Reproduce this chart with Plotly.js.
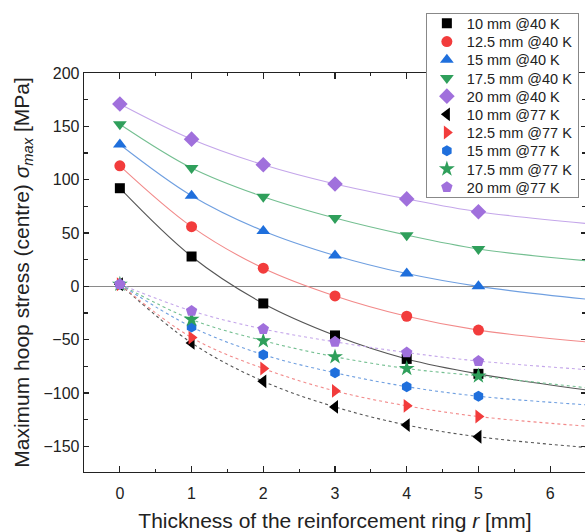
<!DOCTYPE html>
<html>
<head>
<meta charset="utf-8">
<script src="https://cdn.plot.ly/plotly-3.0.1.min.js"></script>
<style>
html,body{margin:0;padding:0;overflow:hidden;background:#fff;}
#chart{width:590px;height:532px;}
</style>
</head>
<body>
<div id="chart"></div>
<script>
// Ring thickness r [mm]
const thickness = [0, 1, 2, 3, 4, 5];
// Fitted-curve end point (right edge of the visible plot)
const fitEndX = 6.5;

const seriesNames = [
  "10 mm @40 K", "12.5 mm @40 K", "15 mm @40 K", "17.5 mm @40 K", "20 mm @40 K",
  "10 mm @77 K", "12.5 mm @77 K", "15 mm @77 K", "17.5 mm @77 K", "20 mm @77 K"
];

// sigma_max [MPa] at 40 K
const s10_40   = [92, 28, -16, -46, -68, -82];
const s12_5_40 = [113, 56, 17, -9, -28, -41];
const s15_40   = [133, 85, 52, 29, 12, 0];
const s17_5_40 = [152, 111, 84, 64, 48, 35];
const s20_40   = [171, 138, 114, 96, 82, 70];

// sigma_max [MPa] at 77 K
const s10_77   = [2, -53, -89, -113, -130, -141];
const s12_5_77 = [2, -48, -77, -98, -112, -122];
const s15_77   = [2, -38, -64, -81, -94, -103];
const s17_5_77 = [2, -31, -51, -66, -77, -84];
const s20_77   = [2, -23, -40, -52, -62, -70];

// fitted curve values at the right edge
const fitEnd40 = [-97, -52, -12, 24, 59];
const fitEnd77 = [-151, -131, -111, -95, -78];

const values = [s10_40, s12_5_40, s15_40, s17_5_40, s20_40, s10_77, s12_5_77, s15_77, s17_5_77, s20_77];
const fitEnds = fitEnd40.concat(fitEnd77);

const markerColors = ["#000000", "#f23c3c", "#1f6fdc", "#2f9f5b", "#a070dc",
                      "#000000", "#f23c3c", "#1f6fdc", "#2f9f5b", "#a070dc"];
const lineColors = ["#555555", "#f28a8a", "#6f9fe0", "#74bf91", "#c4a6ea",
                    "#555555", "#f28a8a", "#6f9fe0", "#74bf91", "#c4a6ea"];
const symbols = ["square", "circle", "triangle-up", "triangle-down", "diamond",
                 "triangle-left", "triangle-right", "hexagon", "star", "pentagon"];
const sizes = [10, 11, 12, 12, 12, 12, 12, 11, 12, 12];

const traces = [];
// fitted curves (below the markers)
for (let i = 0; i < values.length; i++) {
  traces.push({
    x: thickness.concat([fitEndX]),
    y: values[i].concat([fitEnds[i]]),
    mode: "lines",
    type: "scatter",
    showlegend: false,
    hoverinfo: "skip",
    line: {color: lineColors[i], width: 1.1, shape: "spline", smoothing: 1,
           dash: i < 5 ? "solid" : "3px,3px"}
  });
}
// data markers
for (let i = 0; i < values.length; i++) {
  traces.push({
    x: thickness,
    y: values[i],
    name: seriesNames[i],
    mode: "markers",
    type: "scatter",
    marker: {symbol: symbols[i], size: sizes[i], color: markerColors[i], line: {width: 0}}
  });
}

const fam = "Arial, 'Liberation Sans', sans-serif";
const axisFont = {family: fam, size: 16, color: "#222"};

const layout = {
  width: 590,
  height: 532,
  margin: {l: 84, r: 4, t: 73, b: 60},
  paper_bgcolor: "#fff",
  plot_bgcolor: "#fff",
  font: axisFont,
  showlegend: true,
  legend: {
    x: 0.681, y: 1.151, xanchor: "left", yanchor: "top",
    bgcolor: "#fff", bordercolor: "#888", borderwidth: 1,
    font: {family: fam, size: 14.5, color: "#222"},
    tracegroupgap: 0
  },
  xaxis: {
    range: [-0.5, 6.5],
    tick0: 0, dtick: 1,
    ticks: "inside", ticklen: 6, tickwidth: 1.2, tickcolor: "#222",
    ticklabelstandoff: 6,
    minor: {ticks: "inside", ticklen: 3, dtick: 0.5, tick0: 0, tickcolor: "#222", tickwidth: 1.2},
    showline: true, linecolor: "#222", linewidth: 1.3, mirror: "ticks",
    showgrid: false, zeroline: false,
    tickfont: axisFont,
    title: {text: "Thickness of the reinforcement ring <i>r</i> [mm]", font: {family: fam, size: 21, color: "#222"}, standoff: 12}
  },
  yaxis: {
    range: [-174, 200],
    tick0: 0, dtick: 50,
    ticks: "inside", ticklen: 5, tickwidth: 1.2, tickcolor: "#222",
    minor: {ticks: "inside", ticklen: 4, dtick: 25, tickcolor: "#222", tickwidth: 1.2},
    showline: true, linecolor: "#222", linewidth: 1.3, mirror: "ticks",
    showgrid: false,
    zeroline: true, zerolinecolor: "#8a8a8a", zerolinewidth: 1.2,
    tickfont: axisFont,
    title: {text: "Maximum hoop stress (centre) <i>σ<sub>max</sub></i> [MPa]", font: {family: fam, size: 21, color: "#222"}, standoff: 8}
  }
};

// tighter legend row spacing (the reference packs rows closer than Plotly's default)
const legendRowStep = 18.2;
const legendFirstRow = 10.6;

Plotly.newPlot("chart", traces, layout, {displayModeBar: false, staticPlot: true}).then(function (gd) {
  try {
    const items = gd.querySelectorAll(".legend .traces");
    items.forEach(function (el, i) {
      const t = el.getAttribute("transform") || "";
      const m = t.match(/translate\(\s*([-\d.eE]+)[ ,]+([-\d.eE]+)\s*\)/);
      const tx = m ? parseFloat(m[1]) : 1;
      el.setAttribute("transform", "translate(" + tx + "," + (legendFirstRow + i * legendRowStep) + ")");
    });
    const bg = gd.querySelector(".legend rect.bg");
    if (bg && items.length) {
      bg.setAttribute("height", legendFirstRow + (items.length - 1) * legendRowStep + 9.6);
    }
  } catch (e) {}
});
</script>
</body>
</html>
